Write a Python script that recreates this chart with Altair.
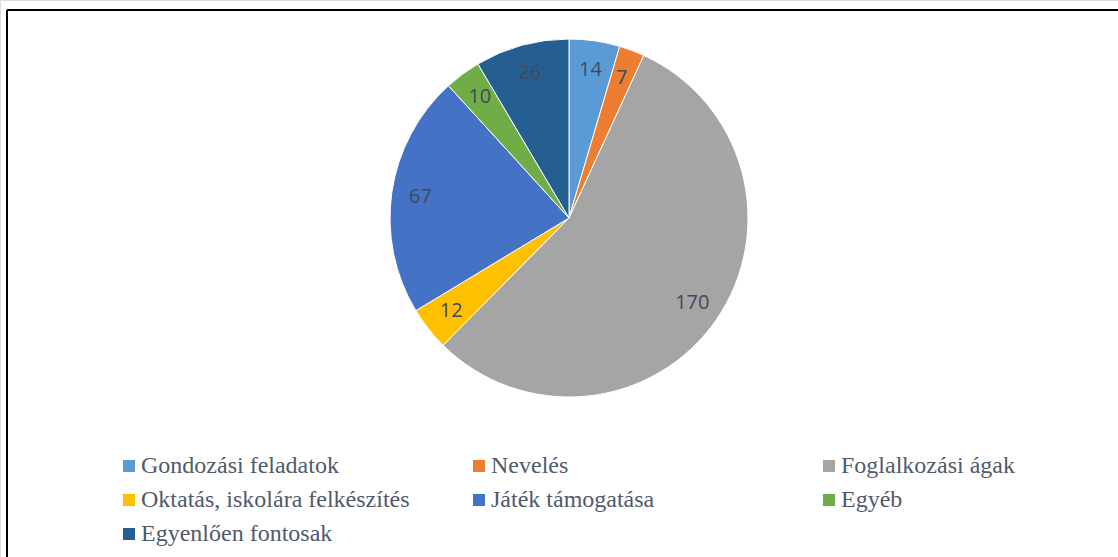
import altair as alt
import pandas as pd

categories = ["Gondozási feladatok", "Nevelés", "Foglalkozási ágak",
              "Oktatás, iskolára felkészítés", "Játék támogatása", "Egyéb",
              "Egyenlően fontosak"]
values = [14, 7, 170, 12, 67, 10, 26]
colors = ["#5B9BD5", "#ED7D31", "#A5A5A5", "#FFC000", "#4472C4", "#70AD47", "#255E91"]

df = pd.DataFrame({"cat": categories, "val": values, "idx": list(range(len(values)))})

base = alt.Chart(df).encode(
    theta=alt.Theta("val:Q", stack=True),
    order=alt.Order("idx:Q"),
)

pie = base.mark_arc(radius=179, stroke="white", strokeWidth=1).encode(
    x=alt.value(569), y=alt.value(218),
    color=alt.Color("cat:N", sort=categories,
                    scale=alt.Scale(domain=categories, range=colors),
                    legend=alt.Legend(
                        title=None, orient="none", legendX=117, legendY=454,
                        direction="horizontal",
                        columns=3, gridAlign="all", columnPadding=57, rowPadding=10,
                        symbolType="square", symbolSize=144, symbolStrokeWidth=0,
                        labelFont="Liberation Serif", labelFontSize=24,
                        labelColor="#4F5A6B", labelOffset=0, labelLimit=400,
                        padding=0)),
)

labels = base.mark_text(radius=150, font="Open Sans", fontSize=20,
                        color="#404A5B").encode(
    x=alt.value(569), y=alt.value(218),
    text="val:Q",
)

frame_data = alt.Data(values=[{"a": 1}])
left = alt.Chart(frame_data).mark_rule(color="#000", strokeWidth=2).encode(
    x=alt.value(7), y=alt.value(10), y2=alt.value(557))
top = alt.Chart(frame_data).mark_rule(color="#000", strokeWidth=2).encode(
    x=alt.value(7), x2=alt.value(1118), y=alt.value(10))

chart = alt.layer(pie, labels, left, top).properties(
    width=1118, height=557, padding=0,
    autosize=alt.AutoSizeParams(type="none"),
).configure_view(stroke=None).configure(background="white")

chart.save("out.html", embed_options={"renderer": "svg", "actions": False})
